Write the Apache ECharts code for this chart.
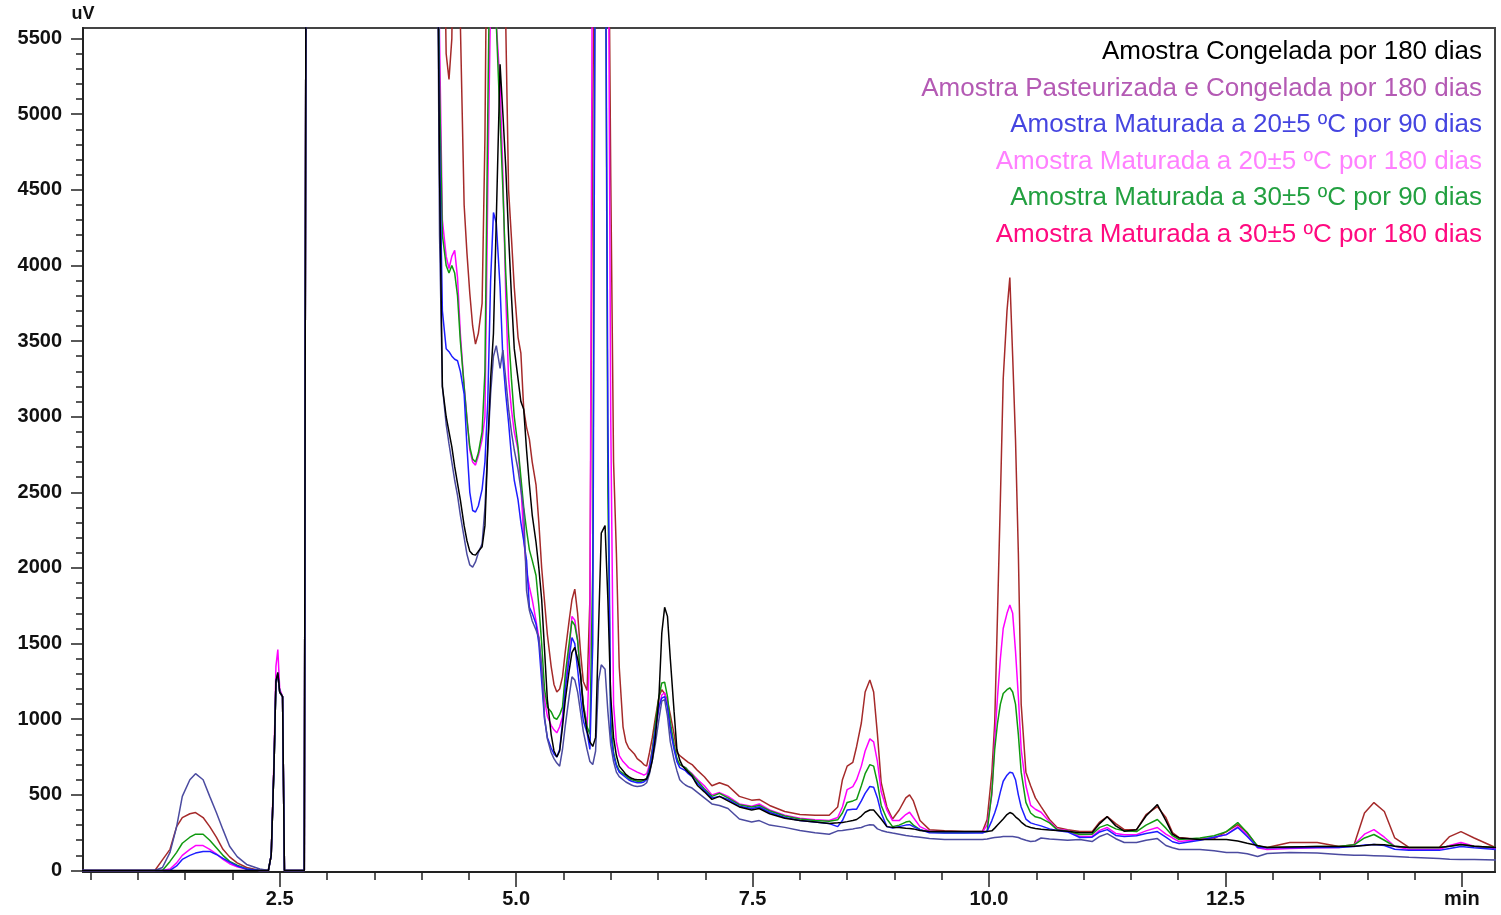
<!DOCTYPE html>
<html><head><meta charset="utf-8">
<script src="https://cdn.jsdelivr.net/npm/echarts@6/dist/echarts.min.js"></script>
<style>html,body{margin:0;padding:0;background:#fff}#c{width:1501px;height:915px}</style>
</head><body><div id="c"></div>
<script>
// Retention time (min)
const timeMin = [
  0.40,1.18,1.26,1.34,1.41,1.47,1.55,1.61,1.69,1.76,1.83,1.90,1.97,2.05,2.15,2.29,
  2.38,2.41,2.44,2.46,2.48,2.50,2.53,2.55,2.76,2.78,3.50,4.13,
  4.16,4.19,4.22,4.26,4.29,4.32,4.35,4.38,4.41,4.45,
  4.48,4.51,4.54,4.57,4.60,4.64,4.67,4.70,4.73,4.76,
  4.79,4.83,4.86,4.89,4.92,4.95,4.98,5.02,5.05,5.08,
  5.11,5.14,5.17,5.21,5.24,5.27,5.30,5.33,5.37,5.40,
  5.43,5.46,5.49,5.52,5.56,5.59,5.62,5.65,5.68,5.71,
  5.75,5.78,5.81,5.84,5.87,5.90,5.94,5.97,6.00,6.03,
  6.06,6.09,6.13,6.16,6.19,6.22,6.25,6.28,6.32,6.35,
  6.38,6.41,6.44,6.47,6.51,6.54,6.57,6.60,6.63,6.67,
  6.70,6.73,6.76,6.79,6.82,6.86,6.89,6.92,
  6.99,7.07,7.15,7.24,7.36,7.49,7.57,7.68,7.84,8.00,8.16,8.31,
  8.40,8.45,8.50,8.56,8.60,8.65,8.69,8.74,8.78,8.82,8.86,8.92,8.98,9.05,9.12,9.16,9.20,9.27,9.37,9.53,9.74,9.93,
  9.98,10.03,10.06,10.09,10.12,10.15,10.19,10.22,10.25,10.28,10.31,10.34,10.39,10.44,10.49,10.55,10.64,10.72,10.83,
  10.96,11.09,11.17,11.25,11.34,11.43,11.56,11.66,11.78,11.87,11.94,12.01,12.23,12.38,12.51,12.63,12.73,12.84,12.94,13.18,13.47,13.70,13.86,13.97,14.07,14.18,14.29,14.44,14.76,14.87,14.99,15.13,15.36
];

// Signal (uV) per sample
const congelada180 = [
  0,0,0,0,0,0,0,0,0,0,0,0,0,0,0,0,
  0,100,700,1250,1310,1180,1150,0,0,7000,7000,7000,
  7000,4600,3200,3000,2900,2800,2670,2560,2450,2280,
  2180,2110,2090,2085,2110,2140,2280,2800,3250,3550,
  4300,5330,5000,4650,4200,3800,3450,3250,3100,3050,
  2780,2550,2350,2170,2000,1790,1460,1130,900,790,
  750,790,950,1130,1320,1440,1475,1400,1300,1080,
  920,850,820,880,1570,2230,2280,1790,1150,880,
  760,690,660,635,620,610,603,600,600,600,
  605,650,730,870,1150,1570,1740,1680,1400,1050,
  800,730,690,670,650,625,590,560,
  520,470,490,460,420,400,410,375,345,330,320,310,
  315,318,323,330,337,360,385,400,400,370,340,290,285,284,280,278,275,265,257,257,257,257,
  257,262,280,300,320,340,370,383,375,355,340,320,295,284,278,272,268,265,260,
  250,250,310,356,295,260,270,360,436,330,240,215,205,205,205,195,180,165,152,155,158,158,160,165,172,170,160,152,152,160,172,160,152
];
const pasteurizada180 = [
  0,0,20,120,290,490,600,640,600,490,383,270,160,92,40,10,
  0,100,700,1250,1300,1180,1150,0,0,7000,7000,7000,
  7000,4200,3200,2950,2820,2700,2580,2480,2350,2200,
  2090,2020,2006,2040,2100,2160,2400,2800,3150,3400,
  3470,3320,3440,3250,3050,2900,2780,2650,2520,2380,
  1850,1720,1650,1590,1540,1345,1015,870,780,740,
  710,690,800,960,1150,1280,1260,1180,1050,920,
  800,720,700,790,1250,1360,1330,1050,830,720,
  650,620,600,585,575,565,558,555,558,565,
  580,640,730,830,1000,1120,1130,1020,850,730,
  660,600,580,565,555,545,530,515,
  480,440,430,410,340,320,330,300,285,265,250,240,
  262,265,270,275,280,284,295,303,300,275,265,255,248,240,232,228,225,220,212,205,205,205,
  208,215,218,220,222,224,225,225,224,222,218,210,200,192,195,215,208,205,200,
  205,191,225,244,210,185,185,200,211,165,150,139,139,130,119,119,110,92,112,119,115,106,100,100,98,95,92,88,80,75,73,72,70
];
const maturada20_90 = [
  0,0,0,0,30,73,100,115,125,126,106,80,55,30,10,0,
  0,100,700,1250,1290,1180,1150,0,0,7000,7000,7000,
  7000,4800,3700,3450,3430,3400,3380,3370,3300,3150,
  2800,2500,2380,2370,2410,2520,2700,3100,3900,4350,
  4280,3855,3380,3150,2960,2740,2580,2450,2300,2180,
  2050,1740,1700,1630,1500,1250,1000,880,810,770,
  750,800,980,1200,1400,1540,1500,1330,1150,990,
  910,800,1500,7000,7000,7000,7000,3000,900,760,
  690,650,630,615,600,590,585,580,580,585,
  600,670,780,920,1080,1140,1150,1080,930,800,
  720,680,670,660,640,620,595,575,
  530,480,490,470,425,410,420,385,350,330,320,310,
  290,330,400,405,405,460,510,555,550,480,380,290,280,290,300,303,290,270,250,248,248,248,
  260,330,380,440,520,590,630,650,645,600,500,420,340,315,305,295,275,265,255,
  218,220,255,270,232,224,230,245,257,220,190,178,200,220,237,284,225,152,150,150,152,152,158,168,172,165,140,133,133,145,158,150,139
];
const maturada20_180 = [
  0,0,0,10,50,100,140,165,165,140,110,73,45,25,8,0,
  0,100,750,1350,1460,1200,1150,0,0,7000,7000,7000,
  7000,5500,4300,4060,3980,4060,4100,3920,3550,3200,
  2995,2780,2700,2680,2740,2850,3000,4500,5800,6200,
  5600,5200,4600,3800,3250,3050,2900,2780,2550,2200,
  1980,1875,1790,1650,1540,1345,1130,1020,960,930,
  910,950,1015,1250,1450,1680,1655,1525,1300,1100,
  950,1500,7000,7000,7000,7000,7000,7000,3000,1100,
  850,760,720,700,680,670,660,650,640,630,
  640,700,800,920,1080,1160,1175,1100,950,820,
  730,700,690,680,660,640,620,600,
  560,500,515,490,440,425,440,400,365,345,335,330,
  350,420,535,555,600,690,790,870,850,720,520,400,330,330,370,385,350,290,260,255,255,255,
  300,500,865,1150,1400,1600,1700,1755,1700,1450,1150,800,560,430,405,385,323,275,265,
  224,226,265,284,245,237,237,262,284,240,215,191,205,220,237,290,237,150,139,145,150,152,170,240,270,220,160,139,139,165,185,160,145
];
const maturada30_90 = [
  0,0,0,60,120,180,220,240,240,200,150,100,60,35,10,0,
  0,100,700,1250,1300,1180,1150,0,0,7000,7000,7000,
  7000,5200,4200,4000,3950,4000,3950,3800,3500,3200,
  2980,2800,2720,2700,2760,2900,3300,5000,6500,6500,
  5600,4960,4500,3950,3550,3250,3000,2800,2600,2400,
  2250,2120,2050,1950,1750,1500,1200,1080,1050,1010,
  1000,1030,1080,1300,1500,1650,1620,1520,1300,1100,
  950,900,2000,7000,7000,7000,7000,2500,1000,780,
  700,660,640,625,610,600,595,590,590,595,
  610,680,800,960,1150,1240,1245,1150,980,830,
  740,700,690,680,660,635,610,590,
  540,490,510,480,435,420,430,395,360,340,330,325,
  335,380,450,460,470,560,640,700,690,580,430,340,290,300,320,325,300,270,255,250,250,255,
  257,520,800,975,1100,1170,1195,1208,1180,1100,900,650,450,380,355,345,315,270,260,
  238,240,285,303,275,262,257,300,337,280,230,205,215,230,257,317,250,160,152,155,158,158,170,215,238,200,160,152,152,160,172,160,152
];
const maturada30_180 = [
  0,0,70,140,290,350,375,383,350,290,220,140,90,50,20,0,
  0,100,700,1250,1290,1180,1150,0,0,7000,7000,7000,
  7000,7000,7000,5400,5230,5500,7000,7000,5600,4400,
  4080,3815,3600,3480,3550,3750,4845,7000,7000,7000,
  7000,7000,7000,5600,4500,4185,3855,3525,3420,3050,
  2930,2850,2700,2550,2300,2000,1780,1560,1350,1230,
  1180,1200,1280,1450,1650,1790,1860,1700,1450,1250,
  1190,1800,5000,7000,7000,7000,7000,7000,4600,2700,
  2100,1345,950,850,810,790,770,740,720,700,
  690,780,880,1000,1150,1195,1170,1120,1030,900,
  780,760,745,730,715,700,680,660,
  620,560,580,560,490,465,470,430,390,370,365,365,
  420,600,690,715,820,975,1180,1260,1180,900,580,420,340,400,480,500,460,330,270,262,258,257,
  337,647,975,1700,2450,3250,3700,3920,3400,2850,2100,1100,650,560,480,422,337,284,270,
  257,257,320,356,310,270,270,370,422,350,250,218,205,210,257,303,250,158,152,185,185,158,170,380,449,390,215,152,152,224,257,215,150
];

const legendNames = [
  'Amostra Congelada por 180 dias',
  'Amostra Pasteurizada e Congelada por 180 dias',
  'Amostra Maturada a 20±5 ºC por 90 dias',
  'Amostra Maturada a 20±5 ºC por 180 dias',
  'Amostra Maturada a 30±5 ºC por 90 dias',
  'Amostra Maturada a 30±5 ºC por 180 dias'
];
const seriesValues = [congelada180, pasteurizada180, maturada20_90, maturada20_180, maturada30_90, maturada30_180];
const lineColors = ['#000000', '#4B4BA0', '#1E1EFF', '#FF00FF', '#109A10', '#A52A2A'];
const legendColors = ['#000000', '#B45AB4', '#4545E0', '#FF80FF', '#22A040', '#FF0A80'];
const drawOrder = [5, 3, 4, 2, 1, 0];

const xLabelValues = [2.5, 5.0, 7.5, 10.0, 12.5, 15.0];
const yLabelValues = [0, 500, 1000, 1500, 2000, 2500, 3000, 3500, 4000, 4500, 5000, 5500];
const xMinorValues = []; for (let v = 0.5; v <= 15.001; v += 0.5) xMinorValues.push(Math.round(v * 10) / 10);
const yMinorValues = []; for (let v = 0; v <= 5500; v += 100) yMinorValues.push(v);

const X_MIN = 0.42, X_MAX = 15.35, Y_MIN = -10, Y_MAX = 5570;
const FONT = '"Liberation Sans", Arial, sans-serif';
const lblStyle = {fontFamily: FONT, fontWeight: 'bold', fontSize: 20, color: '#111'};
const gridPos = {left: 83, right: 6, top: 28, bottom: 43};

const chart = echarts.init(document.getElementById('c'), null, {renderer: 'canvas'});
chart.setOption({
  animation: false,
  backgroundColor: '#ffffff',
  grid: [
    Object.assign({show: true, borderColor: '#444', borderWidth: 2}, gridPos),
    Object.assign({show: false}, gridPos)
  ],
  xAxis: [
    {type: 'value', gridIndex: 0, min: X_MIN, max: X_MAX,
     axisLine: {show: true, onZero: false, lineStyle: {color: '#222', width: 2}},
     axisTick: {show: true, customValues: xLabelValues, length: 15, lineStyle: {color: '#222', width: 1.5}},
     axisLabel: Object.assign({customValues: xLabelValues, margin: 17,
       formatter: v => (Math.abs(v - 15) < 1e-6 ? 'min' : v.toFixed(1))}, lblStyle),
     splitLine: {show: false}},
    {type: 'value', gridIndex: 1, min: X_MIN, max: X_MAX,
     axisLine: {show: false, onZero: false},
     axisTick: {show: true, customValues: xMinorValues, length: 8, lineStyle: {color: '#222', width: 1.5}},
     axisLabel: {show: false}, splitLine: {show: false}}
  ],
  yAxis: [
    {type: 'value', gridIndex: 0, min: Y_MIN, max: Y_MAX,
     name: 'uV', nameLocation: 'end', nameGap: 5,
     nameTextStyle: {fontFamily: FONT, fontWeight: 'bold', fontSize: 18, color: '#111', align: 'center', verticalAlign: 'bottom'},
     axisLine: {show: true, onZero: false, lineStyle: {color: '#222', width: 2}},
     axisTick: {show: true, customValues: yLabelValues, length: 12, lineStyle: {color: '#222', width: 1.5}},
     axisLabel: Object.assign({customValues: yLabelValues, margin: 21, formatter: v => String(Math.round(v))}, lblStyle),
     splitLine: {show: false}},
    {type: 'value', gridIndex: 1, min: Y_MIN, max: Y_MAX,
     axisLine: {show: false, onZero: false},
     axisTick: {show: true, customValues: yMinorValues, length: 7, lineStyle: {color: '#222', width: 1.5}},
     axisLabel: {show: false}, splitLine: {show: false}}
  ],
  series: drawOrder.map(i => ({
    name: legendNames[i],
    type: 'line',
    xAxisIndex: 0, yAxisIndex: 0,
    showSymbol: false, symbol: 'none',
    clip: true,
    lineStyle: {color: lineColors[i], width: 1.5},
    itemStyle: {color: lineColors[i]},
    data: timeMin.map((t, k) => [t, seriesValues[i][k]])
  })),
  graphic: legendNames.map((n, i) => ({
    type: 'text', right: 19, top: 39 + i * 36.5, z: 100,
    style: {text: n, fill: legendColors[i], font: '26px ' + FONT}
  }))
});
</script>
</body></html>
